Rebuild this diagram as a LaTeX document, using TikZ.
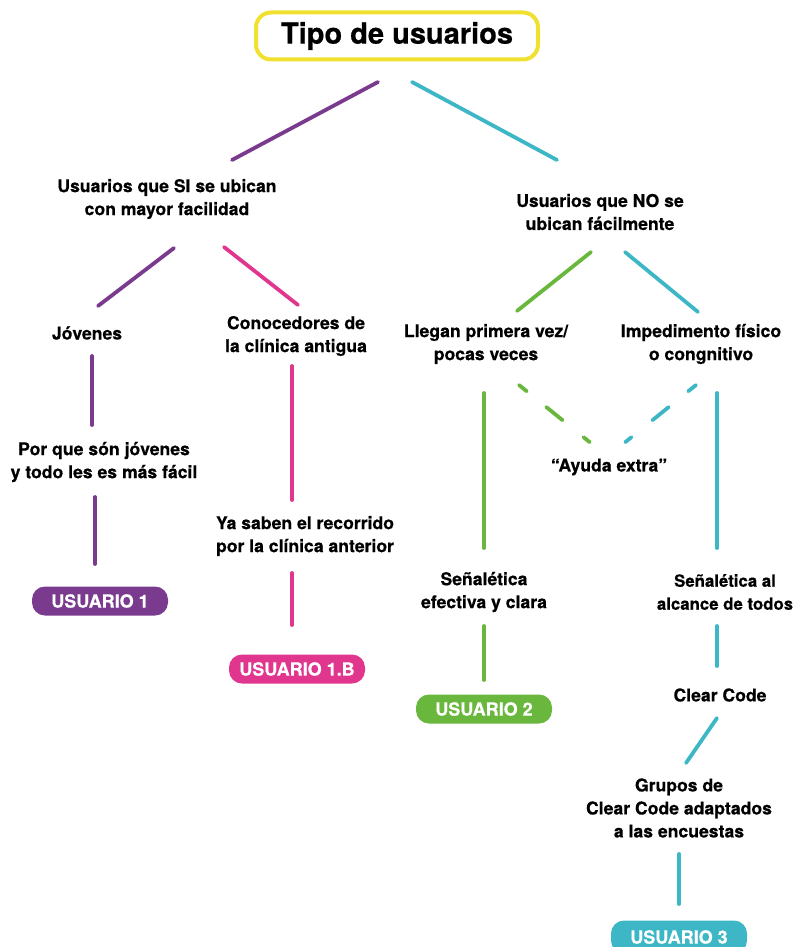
\documentclass[tikz,border=0pt]{standalone}
\usepackage{fontspec}
\setmainfont{TeX Gyre Heros}[BoldFeatures={FakeBold=0.5}]
\definecolor{cpur}{HTML}{7A3B8F}
\definecolor{cpink}{HTML}{E1368E}
\definecolor{cgreen}{HTML}{69B73C}
\definecolor{cteal}{HTML}{3DB7C6}
\definecolor{cyel}{HTML}{F0E130}
\begin{document}
\begin{tikzpicture}[x=1pt,y=-1pt,
  txt/.style={align=center,font=\bfseries\fontsize{17.6}{23}\selectfont,inner sep=0pt},
  pill/.style={rounded corners=13pt,minimum width=136pt,minimum height=29pt,inner sep=0pt,text=white,font=\bfseries\fontsize{18}{20}\selectfont},
  conn/.style={line width=3.8pt,line cap=round},
  dconn/.style={line width=3.8pt,line cap=round,dash pattern=on 10pt off 25pt on 21pt off 27pt on 8pt off 30pt}]
\useasboundingbox (0,0) rectangle (795,947);
% title
\node[draw=cyel,line width=4pt,rounded corners=15pt,minimum width=282pt,minimum height=47pt,inner sep=0pt,font=\bfseries\fontsize{29}{32}\selectfont] (title) at (397,36) {Tipo de usuarios};
% level 1
\node[txt] (si) at (167,199) {Usuarios que SI se ubican\\con mayor facilidad};
\node[txt] (no) at (600,212) {Usuarios que NO se\\ubican fácilmente};
% level 2
\node[txt] (jov) at (87,333) {Jóvenes};
\node[txt] (con) at (296,336) {Conocedores de\\la clínica antigua};
\node[txt] (lle) at (486,344) {Llegan primera vez/\\pocas veces};
\node[txt] (imp) at (701,344) {Impedimento físico\\o congnitivo};
% level 3
\node[txt] (por) at (104,462) {Por que són jóvenes\\y todo les es más fácil};
\node[txt] (ya) at (305,536) {Ya saben el recorrido\\por la clínica anterior};
\node[txt] (ayu) at (609,467) {“Ayuda extra”};
\node[txt] (sen1) at (484,592) {Señalética\\efectiva y clara};
\node[txt,font=\bfseries\fontsize{16.8}{23}\selectfont] (sen2) at (725,592) {Señalética al\\alcance de todos};
\node[txt] (cc) at (720,695) {Clear Code};
\node[txt] (gru) at (679,808) {Grupos de\\Clear Code adaptados\\a las encuestas};
% pills
\node[pill,fill=cpur] (u1) at (100,601) {USUARIO 1};
\node[pill,fill=cpink] (u1b) at (297,669) {USUARIO 1.B};
\node[pill,fill=cgreen] (u2) at (484,709) {USUARIO 2};
\node[pill,fill=cteal,minimum height=33pt] (u3) at (679,937) {USUARIO 3};
% connector end points
\coordinate (a1) at (378,82);  \coordinate (a2) at (232,160);
\coordinate (b1) at (412,82);  \coordinate (b2) at (557,160);
\coordinate (c1) at (174,248); \coordinate (c2) at (98,306);
\coordinate (d1) at (224,247); \coordinate (d2) at (298,305);
\coordinate (e1) at (591,252); \coordinate (e2) at (517,311);
\coordinate (f1) at (625,252); \coordinate (f2) at (698,312);
\coordinate (g1) at (92,356);  \coordinate (g2) at (92,425);
\coordinate (h1) at (95,497);  \coordinate (h2) at (95,564);
\coordinate (i1) at (292,366); \coordinate (i2) at (292,500);
\coordinate (j1) at (292,573); \coordinate (j2) at (292,625);
\coordinate (k1) at (484,393); \coordinate (k2) at (484,548);
\coordinate (l1) at (484,626); \coordinate (l2) at (484,680);
\coordinate (m1) at (717,393); \coordinate (m2) at (717,548);
\coordinate (n1) at (717,626); \coordinate (n2) at (717,666);
\coordinate (o1) at (717,718); \coordinate (o2) at (686,763);
\coordinate (p1) at (679,854); \coordinate (p2) at (679,904);
\coordinate (q1) at (519,385); \coordinate (q2) at (592,444);
\coordinate (r1) at (696,385); \coordinate (r2) at (623,444);
% connectors
\draw[conn,cpur] (a1) -- (a2);
\draw[conn,cteal] (b1) -- (b2);
\draw[conn,cpur] (c1) -- (c2);
\draw[conn,cpink] (d1) -- (d2);
\draw[conn,cgreen] (e1) -- (e2);
\draw[conn,cteal] (f1) -- (f2);
\draw[conn,cpur] (g1) -- (g2);
\draw[conn,cpur] (h1) -- (h2);
\draw[conn,cpink] (i1) -- (i2);
\draw[conn,cpink] (j1) -- (j2);
\draw[conn,cgreen] (k1) -- (k2);
\draw[conn,cgreen] (l1) -- (l2);
\draw[conn,cteal] (m1) -- (m2);
\draw[conn,cteal] (n1) -- (n2);
\draw[conn,cteal] (o1) -- (o2);
\draw[conn,cteal] (p1) -- (p2);
\draw[dconn,cgreen] (q1) -- (q2);
\draw[dconn,cteal] (r1) -- (r2);
\end{tikzpicture}
\end{document}
